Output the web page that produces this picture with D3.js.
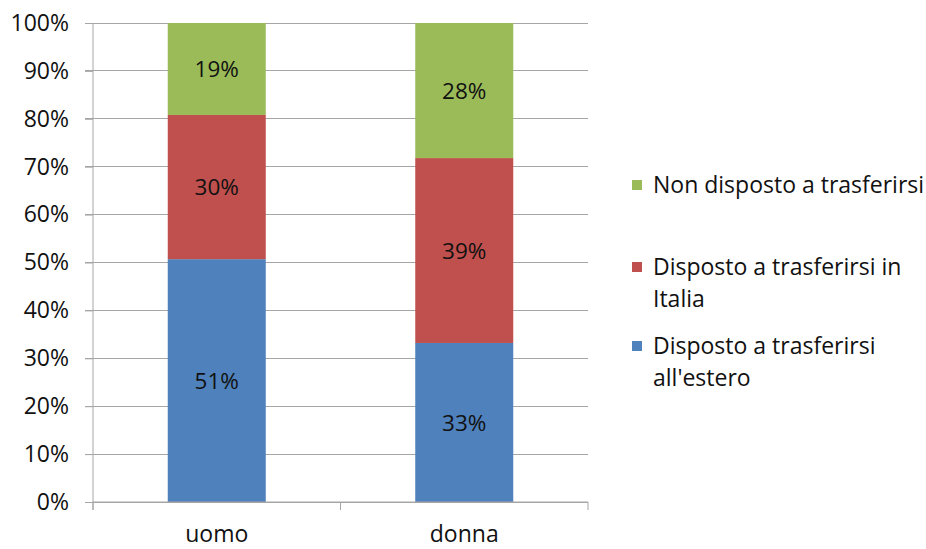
<!DOCTYPE html>
<html><head><meta charset="utf-8">
<script src="https://cdn.jsdelivr.net/npm/d3@7"></script>
<style>body{margin:0;background:#fff;} svg{display:block;}</style>
</head><body>
<svg id="c" width="926" height="549"></svg>
<script>
const categories = ["uomo", "donna"];
const seriesNames = ["Disposto a trasferirsi all'estero", "Disposto a trasferirsi in Italia", "Non disposto a trasferirsi"];
const estero = [50.7, 33.2];
const italia = [30.1, 38.6];
const nonDisposto = [19.2, 28.2];
const labelsEstero = ["51%", "33%"];
const labelsItalia = ["30%", "39%"];
const labelsNon = ["19%", "28%"];
const yTicks = [0, 10, 20, 30, 40, 50, 60, 70, 80, 90, 100];
const colors = ["#4F81BD", "#C0504D", "#9BBB59"];
const legendLines = [["Non disposto a trasferirsi"], ["Disposto a trasferirsi in", "Italia"], ["Disposto a trasferirsi", "all'estero"]];

const font = "'Open Sans', sans-serif";
const svg = d3.select("#c");
const L = 93, R = 588, T = 23, B = 502;
const x = d3.scaleBand().domain(categories).range([L, R]).paddingInner(0.604).paddingOuter(0.302);
const y = d3.scaleLinear().domain([0, 100]).range([B, T]);
const grid = "#A6A6A6";

// gridlines
svg.append("g").selectAll("line").data(yTicks).join("line")
  .attr("x1", L - 8).attr("x2", R).attr("y1", d => y(d)).attr("y2", d => y(d))
  .attr("stroke", grid).attr("stroke-width", 1).attr("shape-rendering", "crispEdges");

const rows = categories.map((c, i) => ({cat: c, estero: estero[i], italia: italia[i], non: nonDisposto[i]}));
const stack = d3.stack().keys(["estero", "italia", "non"]);
const stacked = stack(rows);
const lbls = [labelsEstero, labelsItalia, labelsNon];

stacked.forEach((s, k) => {
  svg.append("g").selectAll("rect").data(s).join("rect")
    .attr("x", d => x(d.data.cat)).attr("width", x.bandwidth())
    .attr("y", d => y(d[1])).attr("height", d => y(d[0]) - y(d[1]))
    .attr("fill", colors[k]);
  svg.append("g").selectAll("text").data(s).join("text")
    .attr("x", d => x(d.data.cat) + x.bandwidth() / 2)
    .attr("y", d => (y(d[0]) + y(d[1])) / 2)
    .attr("dy", "0.36em").attr("text-anchor", "middle")
    .attr("font-family", font).attr("font-size", 22.5).attr("fill", "#111")
    .text((d, i) => lbls[k][i]);
});

// y axis
const yAxis = d3.axisLeft(y).tickValues(yTicks).tickFormat(d => d + "%").tickSize(8).tickPadding(16);
const ga = svg.append("g").attr("transform", `translate(${L},0)`).call(yAxis);
ga.select(".domain").attr("stroke", grid).attr("d", `M0,${T}V${B + 8}`);
ga.selectAll(".tick line").attr("stroke", grid);
ga.selectAll(".tick text").attr("font-family", font).attr("font-size", 23).attr("fill", "#111");

// x axis
const gx = svg.append("g").attr("transform", `translate(0,${B})`);
gx.append("line").attr("x1", L).attr("x2", R).attr("stroke", grid);
const bounds = [L, (L + R) / 2, R];
gx.selectAll(".tk").data(bounds).join("line").attr("class", "tk")
  .attr("x1", d => d).attr("x2", d => d).attr("y1", 0).attr("y2", 8).attr("stroke", grid);
gx.selectAll("text").data(categories).join("text")
  .attr("x", d => x(d) + x.bandwidth() / 2).attr("y", 40)
  .attr("text-anchor", "middle").attr("font-family", font).attr("font-size", 23).attr("fill", "#111")
  .text(d => d);

// legend
const legY = [185, 267, 346];
const legColors = [colors[2], colors[1], colors[0]];
legendLines.forEach((lines, i) => {
  const g = svg.append("g");
  g.append("rect").attr("x", 632).attr("y", legY[i] - 5).attr("width", 10).attr("height", 10).attr("fill", legColors[i]);
  const t = g.append("text").attr("font-family", font).attr("font-size", 23).attr("fill", "#111");
  lines.forEach((ln, j) => {
    t.append("tspan").attr("x", 653).attr("y", legY[i] + j * 32).attr("dy", "0.36em").text(ln);
  });
});
</script>
</body></html>
